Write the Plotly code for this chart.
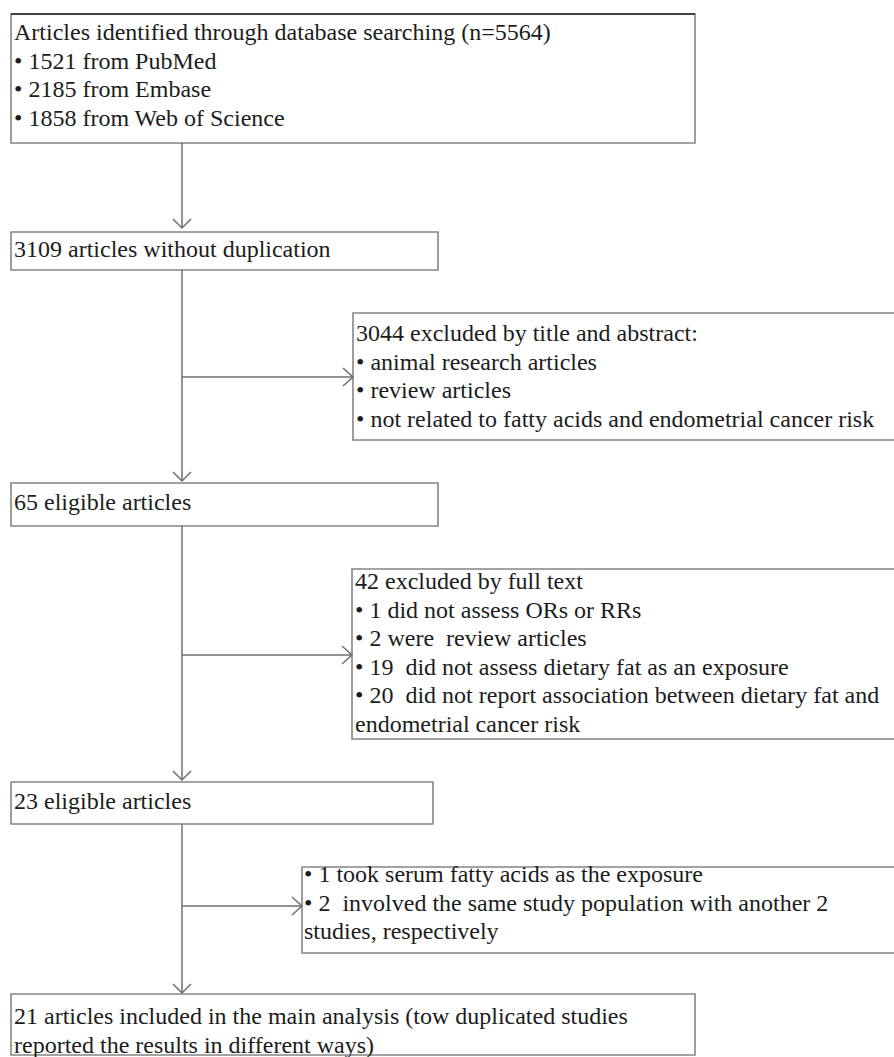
import plotly.graph_objects as go

# ---------------- data ----------------
identified_total = 5564
source_names = ["PubMed", "Embase", "Web of Science"]
source_counts = [1521, 2185, 1858]
after_dedup = 3109
title_abstract_excluded = 3044
title_abstract_reasons = ["animal research articles", "review articles",
                          "not related to fatty acids and endometrial cancer risk"]
eligible_first = 65
fulltext_excluded = 42
fulltext_counts = [1, 2, 19, 20]
fulltext_reasons_lines = [["did not assess ORs or RRs"],
                          ["were\u00a0 review articles"],
                          ["\u00a0did not assess dietary fat as an exposure"],
                          ["\u00a0did not report association between dietary fat and",
                           "endometrial cancer risk"]]
eligible_second = 23
other_counts = [1, 2]
other_reasons_lines = [["took serum fatty acids as the exposure"],
                       ["\u00a0involved the same study population with another 2",
                        "studies, respectively"]]
included = 21
included_lines = ["articles included in the main analysis (tow duplicated studies",
                  "reported the results in different ways)"]

# ---------------- text per box ----------------
B = "\u2022 "
box_texts = {
    "identified": [f"Articles identified through database searching (n={identified_total})"]
                  + [f"{B}{c} from {n}" for c, n in zip(source_counts, source_names)],
    "dedup": [f"{after_dedup} articles without duplication"],
    "excl1": [f"{title_abstract_excluded} excluded by title and abstract:"]
             + [f"{B}{r}" for r in title_abstract_reasons],
    "elig1": [f"{eligible_first} eligible articles"],
    "excl2": [f"{fulltext_excluded} excluded by full text"],
    "elig2": [f"{eligible_second} eligible articles"],
    "excl3": [],
    "incl": [f"{included} {included_lines[0]}", included_lines[1]],
}
for c, lines in zip(fulltext_counts, fulltext_reasons_lines):
    box_texts["excl2"].append(f"{B}{c} {lines[0]}")
    box_texts["excl2"].extend(lines[1:])
for c, lines in zip(other_counts, other_reasons_lines):
    box_texts["excl3"].append(f"{B}{c} {lines[0]}")
    box_texts["excl3"].extend(lines[1:])

# ---------------- layout geometry (page pixels) ----------------
W, H = 894, 1057
geom = {
    "identified": dict(x0=11, x1=695, y0=14, y1=143, tx=13, ty=32),
    "dedup": dict(x0=11, x1=438, y0=232, y1=270, tx=13, ty=249),
    "excl1": dict(x0=353, x1=897, y0=313, y1=440, tx=355, ty=333),
    "elig1": dict(x0=11, x1=438, y0=483, y1=526, tx=13, ty=502),
    "excl2": dict(x0=352, x1=897, y0=569, y1=739, tx=354, ty=581),
    "elig2": dict(x0=11, x1=433, y0=782, y1=824, tx=13, ty=801),
    "excl3": dict(x0=302, x1=897, y0=867, y1=953, tx=303, ty=874),
    "incl": dict(x0=11, x1=695, y0=994, y1=1055, tx=13, ty=1016),
}
LINE_GAP = 28.6
FONT = "Liberation Serif, Times New Roman, serif"
BORDER = "#858585"
CONN = "#6f6f6f"

shapes = []
annotations = []
for key, g in geom.items():
    shapes.append(dict(type="rect", xref="x", yref="y", x0=g["x0"], x1=g["x1"],
                       y0=g["y0"], y1=g["y1"], line=dict(color=BORDER, width=1.6),
                       fillcolor="rgba(0,0,0,0)"))
    for i, t in enumerate(box_texts[key]):
        annotations.append(dict(x=g["tx"], y=g["ty"] + i * LINE_GAP, xref="x", yref="y",
                                text=t, showarrow=False, xanchor="left", yanchor="middle",
                                font=dict(family=FONT, size=24, color="#1c1c1c"),
                                borderpad=0))
# darker top edge of first box
shapes.append(dict(type="line", xref="x", yref="y", x0=11, x1=695, y0=14, y1=14,
                   line=dict(color="#222", width=1.6)))

XC = 182

def vline(y0, y1, x=XC):
    shapes.append(dict(type="line", xref="x", yref="y", x0=x, x1=x, y0=y0, y1=y1,
                       line=dict(color=CONN, width=1.5)))
    shapes.append(dict(type="path", xref="x", yref="y",
                       path=f"M {x-9},{y1-9} L {x},{y1} L {x+9},{y1-9}",
                       line=dict(color=CONN, width=1.5)))

def hline(y, x0, x1):
    shapes.append(dict(type="line", xref="x", yref="y", x0=x0, x1=x1, y0=y, y1=y,
                       line=dict(color=CONN, width=1.5)))
    shapes.append(dict(type="path", xref="x", yref="y",
                       path=f"M {x1-10},{y-9} L {x1},{y} L {x1-10},{y+9}",
                       line=dict(color=CONN, width=1.5)))

vline(geom["identified"]["y1"], geom["dedup"]["y0"] - 4)
vline(geom["dedup"]["y1"], geom["elig1"]["y0"] - 2)
hline(377, XC, geom["excl1"]["x0"])
vline(geom["elig1"]["y1"], geom["elig2"]["y0"] - 2)
hline(655, XC, geom["excl2"]["x0"])
vline(geom["elig2"]["y1"], geom["incl"]["y0"] - 1)
hline(906, XC, geom["excl3"]["x0"])

fig = go.Figure()
fig.update_layout(
    width=W, height=H, margin=dict(l=0, r=0, t=0, b=0),
    paper_bgcolor="white", plot_bgcolor="white",
    xaxis=dict(range=[0, W], visible=False, fixedrange=True),
    yaxis=dict(range=[H, 0], visible=False, fixedrange=True),
    shapes=shapes, annotations=annotations, showlegend=False,
)
fig.write_html(
    "out.html",
    config={"displayModeBar": False, "staticPlot": True},
    post_script="document.body.style.margin='0';document.body.style.overflow='hidden';",
)
